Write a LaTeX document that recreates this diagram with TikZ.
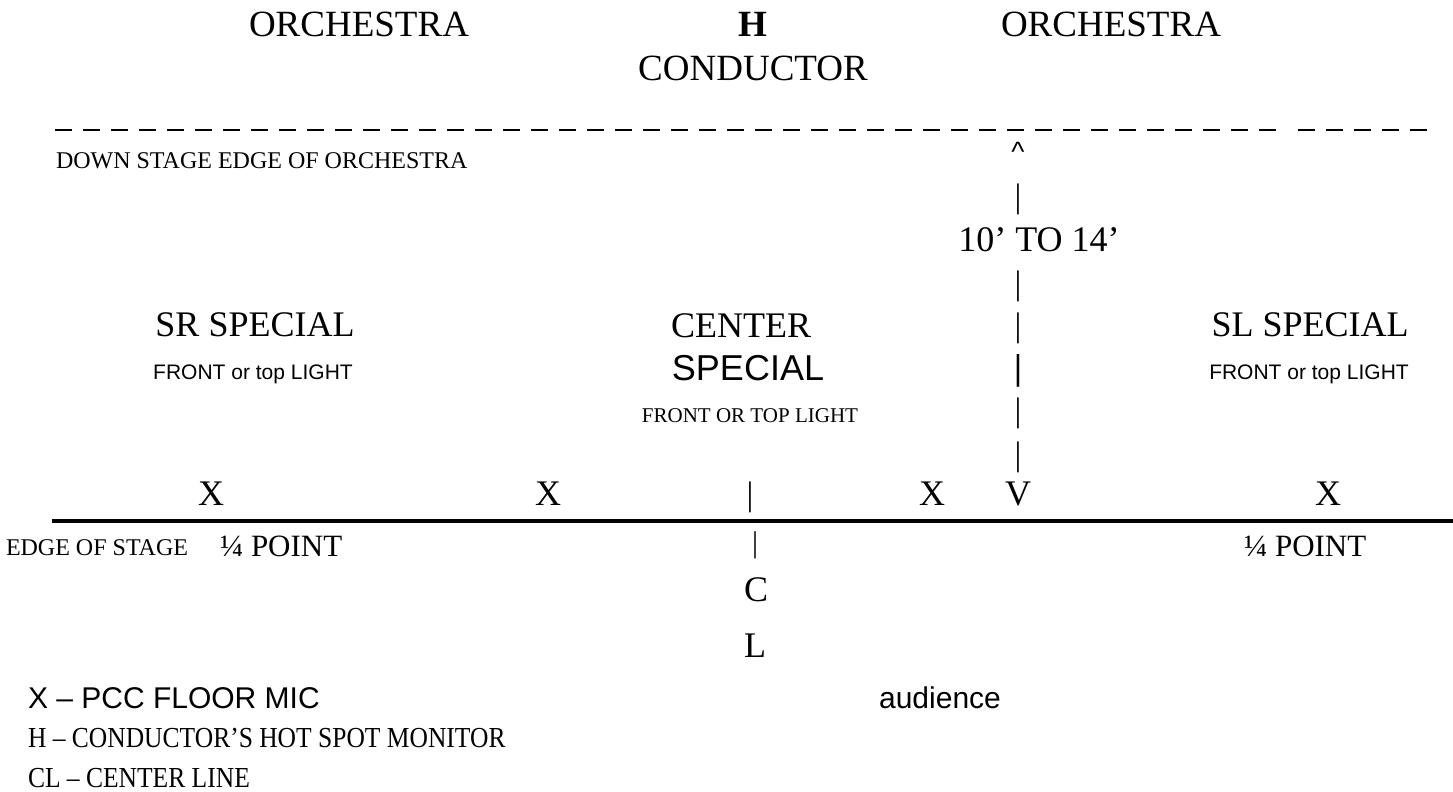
\documentclass[tikz,border=0pt]{standalone}
\usepackage{fontspec}
\setmainfont{Liberation Serif}
\newfontfamily\arialf{Liberation Sans}
\newfontfamily\narrowserif[FakeStretch=0.88]{Liberation Serif}
\begin{document}
\begin{tikzpicture}[x=1pt,y=-1pt,
  lbl/.style={inner sep=0pt, outer sep=0pt},
  huge/.style={lbl, font=\fontsize{37}{40}\selectfont},
  big/.style={lbl, font=\fontsize{36}{40}\selectfont},
  bigsans/.style={lbl, font=\arialf\fontsize{36}{40}\selectfont},
  small/.style={lbl, font=\fontsize{21}{24}\selectfont},
  smallsans/.style={lbl, font=\arialf\fontsize{21}{24}\selectfont},
  mid/.style={lbl, font=\fontsize{24}{26}\selectfont},
  quarter/.style={lbl, font=\fontsize{31}{34}\selectfont},
  bar/.style={lbl, font=\fontsize{34}{36}\selectfont},
  legsans/.style={lbl, anchor=west, font=\arialf\fontsize{30}{34}\selectfont},
  legserif/.style={lbl, anchor=west, font=\narrowserif\fontsize{29}{34}\selectfont},
  orchline/.style={line width=2.5pt, dash pattern=on 17pt off 11pt},
  stageline/.style={line width=4pt}
]
\useasboundingbox (0,0) rectangle (1453,792);
% top
\node[huge] (orchL) at (359,24) {ORCHESTRA};
\node[huge, font=\bfseries\fontsize{37}{40}\selectfont] (hot) at (753,24) {H};
\node[huge] (orchR) at (1111,24) {ORCHESTRA};
\node[huge] (cond) at (753,68) {CONDUCTOR};
% down stage edge of orchestra
\coordinate (dA) at (55,130);
\coordinate (dB) at (1280,130);
\coordinate (dC) at (1298,130);
\coordinate (dD) at (1432,130);
\draw[orchline] (dA) -- (dB);
\draw[orchline] (dC) -- (dD);
\node[mid, anchor=west] (dse) at (56,161) {DOWN STAGE EDGE OF ORCHESTRA};
% distance marker
\node[lbl, font=\arialf\fontsize{28}{30}\selectfont] (caret) at (1018,152) {\^{}};
\node[bar] (b1) at (1018,199) {|};
\node[big] (dist) at (1039,240) {10’ TO 14’};
\node[bar] (b2) at (1018,286) {|};
\node[bar] (b3) at (1018,328) {|};
\node[bar, font=\bfseries\fontsize{36}{38}\selectfont] (b4) at (1018,371) {|};
\node[bar] (b5) at (1018,413) {|};
\node[bar] (b6) at (1018,457) {|};
% specials
\node[big] (sr) at (255,325) {SR SPECIAL};
\node[smallsans] (srf) at (253,374) {FRONT or top LIGHT};
\node[big] (cen) at (741,326) {CENTER};
\node[bigsans] (cens) at (748,368) {SPECIAL};
\node[small] (cenf) at (750,416) {FRONT OR TOP LIGHT};
\node[big] (sl) at (1310,325) {SL SPECIAL};
\node[smallsans] (slf) at (1309,374) {FRONT or top LIGHT};
% mics on stage edge
\node[big] (x1) at (211,494) {X};
\node[big] (x2) at (548,494) {X};
\node[bar] (cl1) at (750,497) {|};
\node[big] (x3) at (932,494) {X};
\node[big] (v) at (1018,494) {V};
\node[big] (x4) at (1328,494) {X};
\coordinate (sA) at (52,521);
\coordinate (sB) at (1453,521);
\draw[stageline] (sA) -- (sB);
\node[mid, anchor=west] (eos) at (6,548) {EDGE OF STAGE};
\node[quarter, anchor=west] (q1) at (220,546) {¼ POINT};
\node[bar, font=\fontsize{30}{32}\selectfont] (cl2) at (755,545) {|};
\node[quarter, anchor=west] (q2) at (1244,546) {¼ POINT};
\node[big] (cC) at (756,590) {C};
\node[big] (cL) at (755,646) {L};
% legend
\node[legsans] (lx) at (28,698) {X – PCC FLOOR MIC};
\node[lbl, font=\arialf\fontsize{30}{34}\selectfont] (aud) at (940,698) {audience};
\node[legserif] (lh) at (28,738) {H – CONDUCTOR’S HOT SPOT MONITOR};
\node[legserif] (lcl) at (28,778) {CL – CENTER LINE};
\end{tikzpicture}
\end{document}
